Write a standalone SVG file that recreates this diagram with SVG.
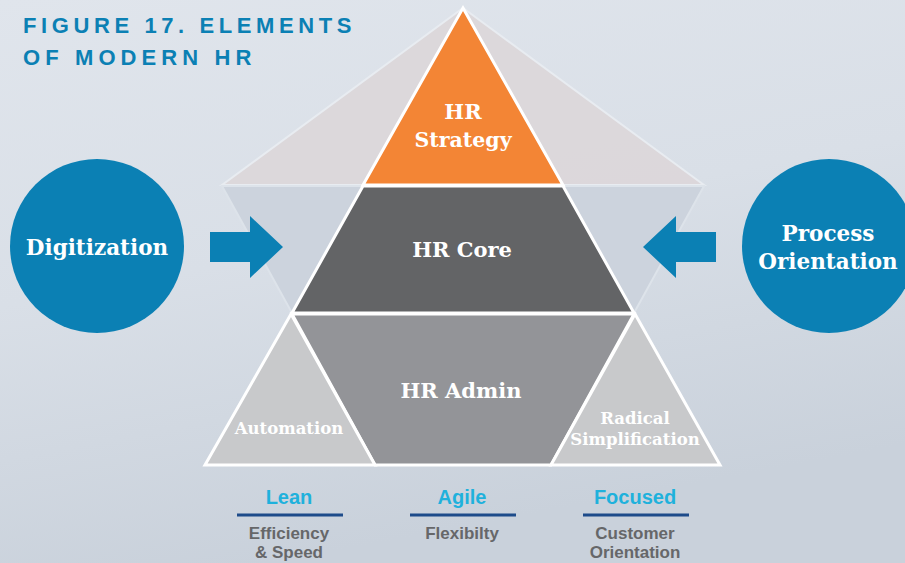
<svg xmlns="http://www.w3.org/2000/svg" width="905" height="563" viewBox="0 0 905 563">
<defs>
<linearGradient id="bg" x1="0" y1="0" x2="0.3" y2="1">
<stop offset="0" stop-color="#e0e5ec"/>
<stop offset="0.5" stop-color="#d9dfe7"/>
<stop offset="1" stop-color="#c9d1db"/>
</linearGradient>
<style>
.serif{font-family:"DejaVu Serif","Liberation Serif",serif;font-weight:bold;fill:#ffffff;text-anchor:middle}
.sans{font-family:"Liberation Sans",Arial,sans-serif;font-weight:bold;text-anchor:middle}
.edge{stroke:#ffffff;stroke-width:3;stroke-linejoin:miter}
.blue{fill:#0b80b4}
.key{fill:#1fb1dc;font-size:20px}
.sub{fill:#666769;font-size:17px}
.rule{stroke:#1d4b8a;stroke-width:3}
.ttl{text-anchor:start;font-size:22px;fill:#0b80b4}
</style>
</defs>
<rect width="905" height="563" fill="url(#bg)"/>
<g id="title">
<text x="23" y="33" class="sans ttl" style="letter-spacing:4.6px">FIGURE 17. ELEMENTS</text>
<text x="23" y="65" class="sans ttl" style="letter-spacing:5.1px">OF MODERN HR</text>
</g>
<g id="backdrop">
<polygon points="463,8 704,185 222,185" fill="#dcd6d8" fill-opacity="0.85" stroke="#e8ecf1" stroke-width="2"/>
<polygon points="222,186 704,186 634,313 292,313" fill="#ccd3dd" stroke="#dde3ea" stroke-width="2"/>
</g>
<g id="hr-strategy">
<polygon class="edge" points="463,8 563,185 363,185" fill="#f38535"/>
<text class="serif" x="463" y="119" font-size="21">HR</text>
<text class="serif" x="463" y="147" font-size="20.5">Strategy</text>
</g>
<g id="hr-core">
<polygon class="edge" points="363,186 563,186 634,313 292,313" fill="#636466"/>
<text class="serif" x="462" y="257" font-size="21">HR Core</text>
</g>
<g id="hr-admin">
<polygon class="edge" points="292,314 634,314 551,465 375,465" fill="#939498"/>
<text class="serif" x="461" y="398" font-size="21">HR Admin</text>
</g>
<g id="automation">
<polygon class="edge" points="291,314 375,465 205,465" fill="#c8c9cb"/>
<text class="serif" x="289" y="434" font-size="16.5">Automation</text>
</g>
<g id="radical-simplification">
<polygon class="edge" points="635,314 720,465 551,465" fill="#c8c9cb"/>
<text class="serif" x="635" y="424" font-size="16.5">Radical</text>
<text class="serif" x="635" y="445" font-size="16.5">Simplification</text>
</g>
<g id="digitization">
<circle class="blue" cx="97" cy="246" r="87"/>
<text class="serif" x="97" y="255" font-size="21.5">Digitization</text>
</g>
<g id="process-orientation">
<circle class="blue" cx="829" cy="246" r="87"/>
<text class="serif" x="828" y="241" font-size="21.5">Process</text>
<text class="serif" x="828" y="269" font-size="21.5">Orientation</text>
</g>
<g id="connectors">
<polygon class="blue" points="210,232 250,232 250,216 283,247 250,278 250,262 210,262"/>
<polygon class="blue" points="716,232 676,232 676,216 643,247 676,278 676,262 716,262"/>
</g>
<g id="lean">
<text class="sans key" x="289" y="504">Lean</text>
<line class="rule" x1="237" y1="515" x2="343" y2="515"/>
<text class="sans sub" x="289" y="539">Efficiency</text>
<text class="sans sub" x="289" y="558">&amp; Speed</text>
</g>
<g id="agile">
<text class="sans key" x="462" y="504">Agile</text>
<line class="rule" x1="410" y1="515" x2="516" y2="515"/>
<text class="sans sub" x="462" y="539">Flexibilty</text>
</g>
<g id="focused">
<text class="sans key" x="635" y="504">Focused</text>
<line class="rule" x1="583" y1="515" x2="689" y2="515"/>
<text class="sans sub" x="635" y="539">Customer</text>
<text class="sans sub" x="635" y="558">Orientation</text>
</g>
</svg>
